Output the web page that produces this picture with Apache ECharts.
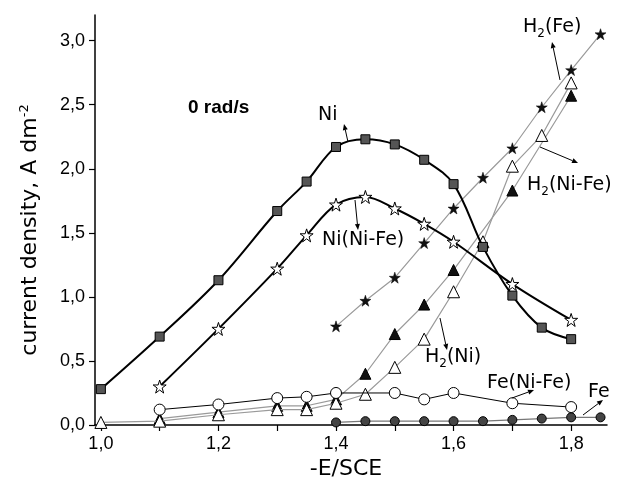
<!DOCTYPE html>
<html>
<head>
<meta charset="utf-8">
<script src="https://cdn.jsdelivr.net/npm/echarts@6/dist/echarts.min.js"></script>
<style>
html,body{margin:0;padding:0;background:#fff;}
#c{width:617px;height:488px;}
</style>
</head>
<body>
<div id="c"></div>
<script>
// ---- data ----
const xTicks = [1.0, 1.1, 1.2, 1.3, 1.4, 1.5, 1.6, 1.7, 1.8];
const xLabels = [1.0, 1.2, 1.4, 1.6, 1.8];
const yTicks = [0, 0.5, 1.0, 1.5, 2.0, 2.5, 3.0];

const niX = [1.0, 1.1, 1.2, 1.3, 1.35, 1.4, 1.45, 1.5, 1.55, 1.6, 1.65, 1.7, 1.75, 1.8];
const niY = [0.28, 0.69, 1.13, 1.67, 1.90, 2.17, 2.23, 2.19, 2.07, 1.88, 1.39, 1.01, 0.76, 0.67];

const niNiFeX = [1.1, 1.2, 1.3, 1.35, 1.4, 1.45, 1.5, 1.55, 1.6, 1.7, 1.8];
const niNiFeY = [0.30, 0.75, 1.22, 1.48, 1.72, 1.78, 1.69, 1.57, 1.43, 1.10, 0.82];

const h2FeX = [1.4, 1.45, 1.5, 1.55, 1.6, 1.65, 1.7, 1.75, 1.8, 1.85];
const h2FeY = [0.77, 0.97, 1.15, 1.42, 1.69, 1.93, 2.16, 2.48, 2.77, 3.05];

const h2NiFeX = [1.1, 1.2, 1.3, 1.35, 1.4, 1.45, 1.5, 1.55, 1.6, 1.7, 1.8];
const h2NiFeY = [0.05, 0.10, 0.15, 0.15, 0.20, 0.40, 0.71, 0.94, 1.21, 1.83, 2.57];

const h2NiX = [1.0, 1.1, 1.2, 1.3, 1.35, 1.4, 1.45, 1.5, 1.55, 1.6, 1.65, 1.7, 1.75, 1.8];
const h2NiY = [0.02, 0.03, 0.08, 0.12, 0.12, 0.17, 0.24, 0.45, 0.67, 1.04, 1.43, 2.02, 2.26, 2.67];

const feNiFeX = [1.1, 1.2, 1.3, 1.35, 1.4, 1.5, 1.55, 1.6, 1.7, 1.8];
const feNiFeY = [0.12, 0.16, 0.21, 0.22, 0.25, 0.25, 0.20, 0.25, 0.17, 0.14];

const feX = [1.4, 1.45, 1.5, 1.55, 1.6, 1.65, 1.7, 1.75, 1.8, 1.85];
const feY = [0.02, 0.03, 0.03, 0.03, 0.03, 0.03, 0.04, 0.05, 0.06, 0.06];

// ---- helpers ----
const zip = (xs, ys) => xs.map((x, i) => [x, ys[i]]);
const comma = v => Number(v).toFixed(1).replace('.', ',');
const STAR = 'path://M50,2 L61,36 L97,36 L68,57 L79,92 L50,71 L21,92 L32,57 L3,36 L39,36 Z';
const FONT = 'Liberation Sans, Arial, sans-serif';
const WFONT = 'DejaVu Sans, sans-serif';

function arrow(x1, y1, x2, y2) {
  const a = Math.atan2(y2 - y1, x2 - x1);
  const L = 6, W = 2.5;
  const bx = x2 - L * Math.cos(a), by = y2 - L * Math.sin(a);
  const px = -Math.sin(a) * W, py = Math.cos(a) * W;
  return [
    { type: 'line', shape: { x1, y1, x2: bx, y2: by }, style: { stroke: '#000', lineWidth: 1 }, z: 100 },
    { type: 'polygon', shape: { points: [[x2, y2], [bx + px, by + py], [bx - px, by - py]] }, style: { fill: '#000' }, z: 100 }
  ];
}
function label(text, x, y, opts) {
  return {
    type: 'text', x, y, z: 100,
    style: Object.assign({
      text, font: '19px ' + WFONT, fill: '#000', textVerticalAlign: 'middle',
      rich: { s: { fontSize: 12, fontFamily: WFONT, padding: [13, 0, 0, 0] } }
    }, opts || {})
  };
}

const graphics = [].concat(
  [label('0 rad/s', 188, 108, { font: 'bold 19px ' + FONT })],
  [label('Ni', 318, 115)], arrow(348, 142, 344, 124),
  [label('Ni(Ni-Fe)', 322, 240)], arrow(355, 200, 358, 230),
  [label('H{s|2}(Fe)', 523, 27)], arrow(560, 80, 552, 42),
  [label('H{s|2}(Ni-Fe)', 527, 185)], arrow(540, 147, 578, 163),
  [label('H{s|2}(Ni)', 425, 357)], arrow(440, 318, 447, 350),
  [label('Fe(Ni-Fe)', 487, 383)], arrow(512, 398, 534, 390),
  [label('Fe', 588, 392)], arrow(583, 415, 603, 400)
);

const chart = echarts.init(document.getElementById('c'), null, { renderer: 'canvas' });
chart.setOption({
  animation: false,
  backgroundColor: '#fff',
  grid: { left: 95, right: 10, top: 15, bottom: 63 },
  xAxis: {
    type: 'value', min: 0.99, max: 1.861,
    name: '-E/SCE', nameLocation: 'middle', nameGap: 31,
    nameTextStyle: { fontSize: 22, fontFamily: WFONT, color: '#000', padding: [0, 10, 0, 0] },
    axisLine: { onZero: false, lineStyle: { color: '#000', width: 1.5 } },
    axisTick: { show: true, customValues: xTicks, length: 6, lineStyle: { color: '#000', width: 1.2 } },
    axisLabel: { customValues: xLabels, formatter: comma, fontSize: 18, fontFamily: FONT, color: '#000', margin: 10 },
    splitLine: { show: false }
  },
  yAxis: {
    type: 'value', min: 0, max: 3.2,
    name: 'current density, A dm{sup|-2}', nameLocation: 'middle', nameGap: 52,
    nameTextStyle: { fontSize: 22, fontFamily: WFONT, color: '#000', padding: [0, 20, 0, 0],
      rich: { sup: { fontSize: 13, fontFamily: WFONT, verticalAlign: 'top', padding: [0, 0, 12, 0] } } },
    axisLine: { show: true, lineStyle: { color: '#000', width: 1.5 } },
    axisTick: { show: true, customValues: yTicks, length: 6, lineStyle: { color: '#000', width: 1.2 } },
    axisLabel: { customValues: yTicks, formatter: comma, fontSize: 18, fontFamily: FONT, color: '#000', margin: 10 },
    splitLine: { show: false }
  },
  graphic: graphics,
  series: [
    { name: 'H2(Ni-Fe)', type: 'line', data: zip(h2NiFeX, h2NiFeY), symbol: 'triangle', symbolSize: 11,
      lineStyle: { color: '#9a9a9a', width: 1.2 }, itemStyle: { color: '#111', borderColor: '#000', borderWidth: 1 }, z: 2 },
    { name: 'H2(Ni)', type: 'line', data: zip(h2NiX, h2NiY), symbol: 'triangle', symbolSize: 12,
      lineStyle: { color: '#9a9a9a', width: 1.2 }, itemStyle: { color: '#fff', borderColor: '#000', borderWidth: 1 }, z: 3 },
    { name: 'H2(Fe)', type: 'line', data: zip(h2FeX, h2FeY), symbol: STAR, symbolSize: 11,
      lineStyle: { color: '#9a9a9a', width: 1.2 }, itemStyle: { color: '#111', borderColor: '#000', borderWidth: 0.5 }, z: 3 },
    { name: 'Fe', type: 'line', data: zip(feX, feY), symbol: 'circle', symbolSize: 9,
      lineStyle: { color: '#777', width: 1.2 }, itemStyle: { color: '#444', borderColor: '#000', borderWidth: 1 }, z: 3 },
    { name: 'Fe(Ni-Fe)', type: 'line', data: zip(feNiFeX, feNiFeY), symbol: 'circle', symbolSize: 11,
      lineStyle: { color: '#000', width: 1 }, itemStyle: { color: '#fff', borderColor: '#000', borderWidth: 1 }, z: 4 },
    { name: 'Ni(Ni-Fe)', type: 'line', data: zip(niNiFeX, niNiFeY), smooth: 0.35, symbol: STAR, symbolSize: 13,
      lineStyle: { color: '#000', width: 2 }, itemStyle: { color: '#fff', borderColor: '#000', borderWidth: 1 }, z: 5 },
    { name: 'Ni', type: 'line', data: zip(niX, niY), smooth: 0.35, symbol: 'rect', symbolSize: 9,
      lineStyle: { color: '#000', width: 2 }, itemStyle: { color: '#555', borderColor: '#000', borderWidth: 1 }, z: 6 }
  ]
});
</script>
</body>
</html>
